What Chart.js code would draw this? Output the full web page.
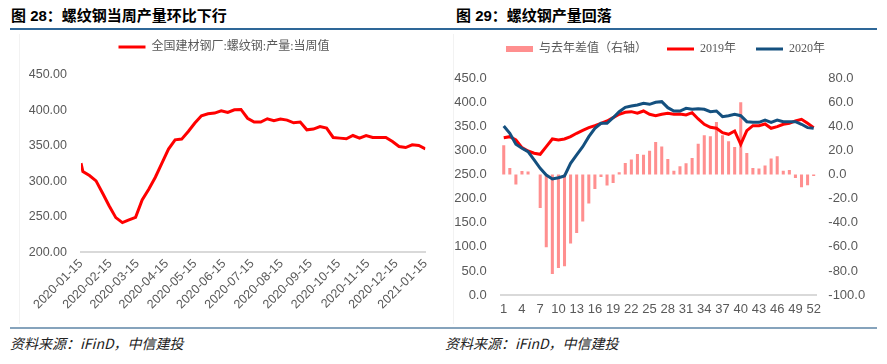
<!DOCTYPE html>
<html>
<head>
<meta charset="utf-8">
<script src="https://cdn.jsdelivr.net/npm/chart.js@4.4.1/dist/chart.umd.min.js"></script>
<style>
    body {
        margin: 0;
        width: 887px;
        height: 364px;
        background: #fff;
        position: relative;
        overflow: hidden;
        font-family: "Noto Sans CJK SC", sans-serif;
    }
    .title {
        position: absolute;
        top: 5px;
        font-family: "Liberation Sans", "Noto Sans CJK SC", sans-serif;
        font-size: 15px;
        font-weight: bold;
        line-height: 22px;
        color: #000;
    }
    .rule-top {
        position: absolute;
        left: 10px;
        width: 867px;
        top: 28px;
        height: 2px;
        background: #2E6798;
    }
    .rule-bottom {
        position: absolute;
        left: 10px;
        width: 867px;
        top: 327px;
        height: 2px;
        background: #86A3BC;
    }
    .source {
        position: absolute;
        top: 333px;
        font-size: 14px;
        font-style: italic;
        line-height: 20px;
        color: #222;
    }
    .box {
        position: absolute;
        top: 34px;
        height: 290px;
        border-left: 1px solid #F2F2F2;
    }
    canvas { display: block; }
</style>
</head>
<body>

<div class="title" style="left:11px">图 28：螺纹钢当周产量环比下行</div>
<div class="title" style="left:456px">图 29：螺纹钢产量回落</div>
<div class="rule-top"></div>

<div class="box" style="left:19px"><canvas id="leftChart" width="420" height="290"></canvas></div>
<div class="box" style="left:453px"><canvas id="rightChart" width="423" height="290"></canvas></div>

<div class="rule-bottom"></div>
<div class="source" style="left:10px">资料来源：iFinD，中信建投</div>
<div class="source" style="left:445px">资料来源：iFinD，中信建投</div>

<script>
/* 图28 data: weekly rebar output (10k t) */
const weekDates = [
    "2020-01-15", "2020-01-17", "2020-01-24", "2020-01-31", "2020-02-07", "2020-02-14",
    "2020-02-21", "2020-02-28", "2020-03-06", "2020-03-13", "2020-03-20", "2020-03-27",
    "2020-04-03", "2020-04-10", "2020-04-17", "2020-04-24", "2020-05-01", "2020-05-08",
    "2020-05-15", "2020-05-22", "2020-05-29", "2020-06-05", "2020-06-12", "2020-06-19",
    "2020-06-26", "2020-07-03", "2020-07-10", "2020-07-17", "2020-07-24", "2020-07-31",
    "2020-08-07", "2020-08-14", "2020-08-21", "2020-08-28", "2020-09-04", "2020-09-11",
    "2020-09-18", "2020-09-25", "2020-10-02", "2020-10-09", "2020-10-16", "2020-10-23",
    "2020-10-30", "2020-11-06", "2020-11-13", "2020-11-20", "2020-11-27", "2020-12-04",
    "2020-12-11", "2020-12-18", "2020-12-25", "2021-01-01", "2021-01-08", "2021-01-15"
];
const rebarOutput = [
    325.7, 313.9, 308.2, 300.7, 283.3, 265.4, 248.9, 241.8, 245.6, 249.4, 273.9, 289.0,
    305.9, 325.7, 345.5, 358.6, 359.6, 370.4, 382.2, 392.5, 395.3, 396.3, 399.6, 397.2,
    401.0, 401.4, 389.0, 383.6, 383.6, 388.3, 385.5, 387.9, 386.4, 382.6, 383.6, 372.7,
    373.7, 377.4, 375.1, 361.9, 361.0, 360.0, 364.7, 361.0, 364.7, 361.9, 361.9, 361.9,
    356.2, 349.2, 347.7, 351.6, 350.6, 345.9
];
const monthTicks = [
    "2020-01-15", "2020-02-15", "2020-03-15", "2020-04-15", "2020-05-15", "2020-06-15",
    "2020-07-15", "2020-08-15", "2020-09-15", "2020-10-15", "2020-11-15", "2020-12-15",
    "2021-01-15"
];

/* 图29 data: by week number */
const weekLabels = Array.from({ length: 52 }, (_, i) => String(i + 1));
const yoyDiff = [
    24.3, 5.5, -8.3, 3.0, 2.5, null, -27.7, -60.4, -82.5, -77.5,
    -76.1, -57.3, -48.5, -39.0, -24.1, -11.9, -1.9, -9.1, -6.9, 1.9,
    9.7, 12.5, 17.2, 16.6, 19.9, 27.1, 23.3, 13.0, 3.3, 6.9,
    9.4, 13.8, 25.7, 32.7, 31.8, 43.7, 32.7, 27.7, 23.0, 60.1,
    18.0, 5.5, 5.0, 7.5, 13.3, 15.2, 3.3, 3.9, -2.8, -10.5,
    -8.9, -1.2
];
const output2019 = [
    326.7, 328.8, 321.9, 306.0, 299.0, 294.3, 292.2, 308.0, 324.0, 321.9,
    324.0, 328.8, 335.8, 342.0, 347.5, 351.6, 356.6, 361.4, 368.2, 375.3,
    379.4, 380.7, 377.4, 382.1, 375.3, 372.4, 375.3, 377.4, 375.3, 375.9,
    373.8, 378.6, 365.5, 354.5, 348.2, 346.2, 337.1, 333.7, 340.6, 313.0,
    341.3, 351.6, 351.6, 355.1, 346.2, 349.6, 354.5, 356.6, 361.4, 364.9,
    356.6, 347.5
];
const output2020 = [
    351.0, 335.8, 313.0, 304.7, 297.6, 280.4, 263.1, 249.2, 240.9, 243.6,
    247.1, 273.5, 290.8, 308.0, 328.8, 346.2, 356.6, 356.6, 368.2, 380.7,
    389.8, 392.5, 394.6, 398.1, 396.0, 400.2, 401.5, 389.0, 382.1, 382.1,
    387.7, 385.7, 387.0, 385.7, 380.7, 382.1, 370.3, 372.4, 375.3, 372.4,
    359.9, 358.6, 358.6, 363.4, 358.6, 363.4, 359.9, 359.9, 359.9, 354.5,
    347.5, 346.2
];

const tickColor = "#595959";
const axisLine = "#D9D9D9";
const legendFont = { family: '"Liberation Serif", "Noto Sans CJK SC"', size: 12 };

/* days since first date */
function dayOf(s) {
    let p = s.split("-").map(Number);
    return Date.UTC(p[0], p[1] - 1, p[2]) / 86400000;
}
const day0 = dayOf(weekDates[0]);
const tickDays = monthTicks.map(d => dayOf(d) - day0);

/* push the plot down below the legend */
function legendGap(extra) {
    return {
        id: "legendGap",
        beforeInit(chart) {
            const fit = chart.legend.fit;
            chart.legend.fit = function () {
                fit.bind(chart.legend)();
                this.height += extra;
            };
        }
    };
}

function lineLegend(chart) {
    return chart.data.datasets.map((ds, i) => ({
        text: ds.label,
        strokeStyle: ds.type === "bar" ? ds.backgroundColor : ds.borderColor,
        fillStyle: ds.type === "bar" ? ds.backgroundColor : ds.borderColor,
        lineWidth: ds.type === "bar" ? 6 : 3,
        pointStyle: "line",
        fontColor: tickColor,
        hidden: false,
        datasetIndex: i
    }));
}

/* Left chart */
new Chart(document.getElementById("leftChart"), {
    type: "line",
    data: {
        datasets: [{
            label: "全国建材钢厂:螺纹钢:产量:当周值",
            data: weekDates.map((d, i) => ({ x: dayOf(d) - day0, y: rebarOutput[i] })),
            borderColor: "#FF0000",
            borderWidth: 3,
            pointRadius: 0,
            tension: 0
        }]
    },
    options: {
        responsive: false,
        animation: false,
        layout: { padding: { top: 0, right: 12, left: 0, bottom: 0 } },
        plugins: {
            legend: {
                labels: {
                    usePointStyle: true,
                    pointStyleWidth: 27,
                    padding: 7,
                    color: tickColor,
                    font: legendFont,
                    generateLabels: lineLegend
                }
            },
            tooltip: { enabled: false }
        },
        scales: {
            x: {
                type: "linear",
                min: tickDays[0],
                max: tickDays[tickDays.length - 1],
                afterBuildTicks: scale => {
                    scale.ticks = tickDays.map(v => ({ value: v }));
                },
                afterFit: scale => { scale.height = 71.7; },
                grid: { display: false, drawTicks: false },
                border: { display: true, color: axisLine, width: 2 },
                ticks: {
                    autoSkip: false,
                    minRotation: 45,
                    maxRotation: 45,
                    padding: 4,
                    color: tickColor,
                    font: { family: "Liberation Sans", size: 12.5 },
                    callback: (v, i) => monthTicks[i]
                }
            },
            y: {
                min: 200,
                max: 450,
                afterFit: scale => { scale.width = 61; },
                grid: { display: false, drawTicks: false },
                border: { display: false },
                ticks: {
                    stepSize: 50,
                    padding: 14,
                    color: tickColor,
                    font: { family: "Liberation Sans", size: 12.5 },
                    callback: v => v.toFixed(2)
                }
            }
        }
    },
    plugins: [legendGap(12)]
});

/* Right chart */
new Chart(document.getElementById("rightChart"), {
    type: "bar",
    data: {
        labels: weekLabels,
        datasets: [
            {
                type: "bar",
                label: "与去年差值（右轴）",
                data: yoyDiff,
                yAxisID: "y1",
                backgroundColor: "#FF8F8F",
                barPercentage: 0.5,
                categoryPercentage: 1,
                order: 2
            },
            {
                type: "line",
                label: "2019年",
                data: output2019,
                yAxisID: "y",
                borderColor: "#FF0000",
                borderWidth: 3,
                pointRadius: 0,
                tension: 0,
                order: 1
            },
            {
                type: "line",
                label: "2020年",
                data: output2020,
                yAxisID: "y",
                borderColor: "#14507F",
                borderWidth: 3,
                pointRadius: 0,
                tension: 0,
                order: 0
            }
        ]
    },
    options: {
        responsive: false,
        animation: false,
        layout: { padding: { top: -11, right: 0, left: 0, bottom: 0 } },
        plugins: {
            legend: {
                labels: {
                    usePointStyle: true,
                    pointStyleWidth: 27,
                    padding: 20,
                    color: tickColor,
                    font: legendFont,
                    generateLabels: lineLegend
                }
            },
            tooltip: { enabled: false }
        },
        scales: {
            x: {
                offset: true,
                afterFit: scale => { scale.height = 29; },
                grid: { display: false, drawTicks: false },
                border: { display: true, color: axisLine, width: 2 },
                ticks: {
                    autoSkip: false,
                    maxRotation: 0,
                    padding: 7,
                    color: tickColor,
                    font: { family: "Liberation Sans", size: 13 },
                    callback: (v, i) => (i % 3 === 0 ? weekLabels[i] : "")
                }
            },
            y: {
                position: "left",
                min: 0,
                max: 450,
                afterFit: scale => { scale.width = 46.7; },
                grid: { display: false, drawTicks: false },
                border: { display: false },
                ticks: {
                    stepSize: 50,
                    padding: 14,
                    color: tickColor,
                    font: { family: "Liberation Sans", size: 13 },
                    callback: v => v.toFixed(1)
                }
            },
            y1: {
                position: "right",
                min: -100,
                max: 80,
                afterFit: scale => { scale.width = 60.3; },
                grid: { display: false, drawTicks: false },
                border: { display: false },
                ticks: {
                    stepSize: 20,
                    padding: 11.6,
                    color: tickColor,
                    font: { family: "Liberation Sans", size: 13 },
                    callback: v => v.toFixed(1)
                }
            }
        }
    },
    plugins: [legendGap(13.3)]
});
</script>
</body>
</html>
